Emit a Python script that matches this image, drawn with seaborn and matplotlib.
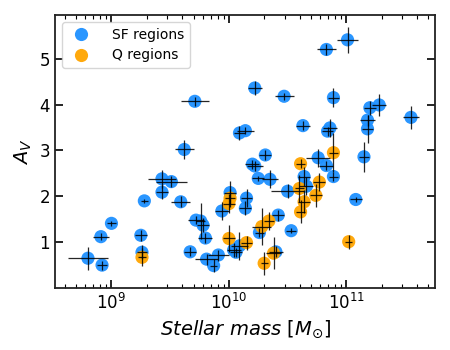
import numpy as np
import pandas as pd
import matplotlib
matplotlib.use("Agg")
import matplotlib.pyplot as plt
import seaborn as sns

# log10 stellar mass, A_V and errors
sf_logm = [8.80, 8.92, 8.91, 9.00, 9.25, 9.26, 9.28, 9.43, 9.51, 9.43,
           9.59, 9.62, 9.71, 10.09, 10.14, 10.22, 10.47, 10.83, 11.01, 10.89,
           10.63, 10.86, 10.84, 11.20, 11.28, 11.18, 11.18, 11.55, 11.15, 10.31,
           10.20, 10.22, 10.25, 10.35, 10.50, 10.01, 10.15, 10.14, 9.94, 9.72,
           9.76, 9.78, 9.80, 9.67, 9.81, 9.87, 9.91, 10.04, 10.09, 10.06,
           10.26, 10.42, 10.53, 10.40, 10.76, 10.83, 10.89, 10.64, 10.66, 11.08]
sf_av = [0.65, 0.50, 1.12, 1.41, 1.15, 0.78, 1.90, 2.38, 2.32, 2.09,
         1.88, 3.02, 4.07, 3.38, 3.43, 4.36, 4.18, 5.20, 5.41, 4.15,
         3.54, 3.49, 3.42, 3.93, 3.99, 3.66, 3.47, 3.72, 2.86, 2.90,
         2.70, 2.66, 2.39, 2.37, 2.11, 2.08, 1.96, 1.74, 1.68, 1.48,
         1.46, 1.37, 1.09, 0.79, 0.63, 0.49, 0.72, 0.83, 0.92, 0.78,
         1.21, 1.59, 1.25, 0.79, 2.84, 2.67, 2.43, 2.43, 2.22, 1.93]
sf_xerr = [0.17, 0.04, 0.07, 0.04, 0.05, 0.04, 0.03, 0.12, 0.13, 0.05,
           0.08, 0.08, 0.12, 0.05, 0.07, 0.06, 0.08, 0.08, 0.09, 0.05,
           0.06, 0.06, 0.05, 0.05, 0.06, 0.06, 0.05, 0.07, 0.04, 0.05,
           0.06, 0.07, 0.05, 0.07, 0.14, 0.05, 0.05, 0.05, 0.06, 0.07,
           0.04, 0.05, 0.06, 0.05, 0.10, 0.03, 0.09, 0.06, 0.07, 0.05,
           0.04, 0.05, 0.04, 0.06, 0.10, 0.06, 0.04, 0.05, 0.06, 0.05]
sf_yerr = [0.25, 0.10, 0.08, 0.05, 0.12, 0.15, 0.05, 0.20, 0.12, 0.15,
           0.12, 0.20, 0.10, 0.15, 0.08, 0.15, 0.08, 0.12, 0.28, 0.20,
           0.10, 0.20, 0.10, 0.15, 0.25, 0.12, 0.30, 0.25, 0.32, 0.10,
           0.10, 0.10, 0.05, 0.20, 0.15, 0.25, 0.20, 0.15, 0.20, 0.08,
           0.40, 0.15, 0.10, 0.10, 0.12, 0.15, 0.12, 0.15, 0.30, 0.10,
           0.10, 0.12, 0.05, 0.12, 0.20, 0.10, 0.10, 0.20, 0.20, 0.06]

q_logm = [9.26, 10.01, 10.00, 10.00, 10.15, 10.30, 10.38, 10.28, 10.34,
          10.61, 10.89, 10.60, 10.77, 10.74, 10.64, 10.61, 11.02]
q_av = [0.67, 1.96, 1.84, 1.08, 0.99, 0.54, 0.76, 1.34, 1.46,
        2.71, 2.95, 2.17, 2.31, 2.02, 1.88, 1.66, 1.01]
q_xerr = [0.03, 0.04, 0.05, 0.05, 0.05, 0.03, 0.06, 0.08, 0.04,
          0.04, 0.04, 0.04, 0.05, 0.05, 0.05, 0.04, 0.03]
q_yerr = [0.20, 0.20, 0.20, 0.30, 0.15, 0.25, 0.35, 0.40, 0.20,
          0.10, 0.43, 0.30, 0.20, 0.25, 0.25, 0.25, 0.15]

sf = pd.DataFrame({"logm": sf_logm, "av": sf_av, "xerr": sf_xerr,
                   "yerr": sf_yerr, "type": "SF regions"})
q = pd.DataFrame({"logm": q_logm, "av": q_av, "xerr": q_xerr,
                  "yerr": q_yerr, "type": "Q regions"})
df = pd.concat([sf, q], ignore_index=True)
df["mass"] = 10 ** df["logm"]
df["xlo"] = df["mass"] - 10 ** (df["logm"] - df["xerr"])
df["xhi"] = 10 ** (df["logm"] + df["xerr"]) - df["mass"]

sns.set_theme(style="ticks")
plt.rcParams['font.family'] = ['DejaVu Sans']
plt.rcParams['mathtext.fontset'] = 'dejavusans'
plt.rcParams.update({"text.color": "black", "axes.labelcolor": "black",
                     "xtick.color": "black", "ytick.color": "black"})

fig = plt.figure(figsize=(4.5, 3.5), dpi=100)
ax = fig.add_axes([0.122, 0.177, 0.845, 0.78])

sns.scatterplot(data=df, x="mass", y="av", hue="type",
                palette={"SF regions": "dodgerblue", "Q regions": "orange"},
                s=90, linewidth=0, alpha=0.95, ax=ax, zorder=2)
ax.errorbar(df["mass"], df["av"], xerr=[df["xlo"], df["xhi"]], yerr=df["yerr"],
            fmt="none", ecolor="black", elinewidth=0.9, alpha=0.85, capsize=0,
            zorder=3)

ax.set_xscale("log")
ax.set_xlim(3.3e8, 5.7e11)
ax.set_ylim(0, 5.95)
ax.set_yticks([1, 2, 3, 4, 5])
ax.set_xlabel(r"$Stellar\ mass\ [M_{\odot}]$", fontsize=14)
ax.set_ylabel(r"$A_V$", fontsize=14)

ax.tick_params(which="both", direction="in", top=True, right=True,
               labelsize=12, color="black", labelcolor="black")
ax.tick_params(which="major", length=6, width=1.2)
ax.tick_params(which="minor", length=3, width=0.8)
for sp in ax.spines.values():
    sp.set_linewidth(1.3)
    sp.set_color("#222222")

leg = ax.legend(loc="upper left", fontsize=10, markerscale=1.0,
                frameon=True, borderpad=0.4, handletextpad=1.2)
leg.get_frame().set_edgecolor("#cccccc")
for t in leg.get_texts():
    t.set_color("black")

fig.savefig("out.png", dpi=100)
